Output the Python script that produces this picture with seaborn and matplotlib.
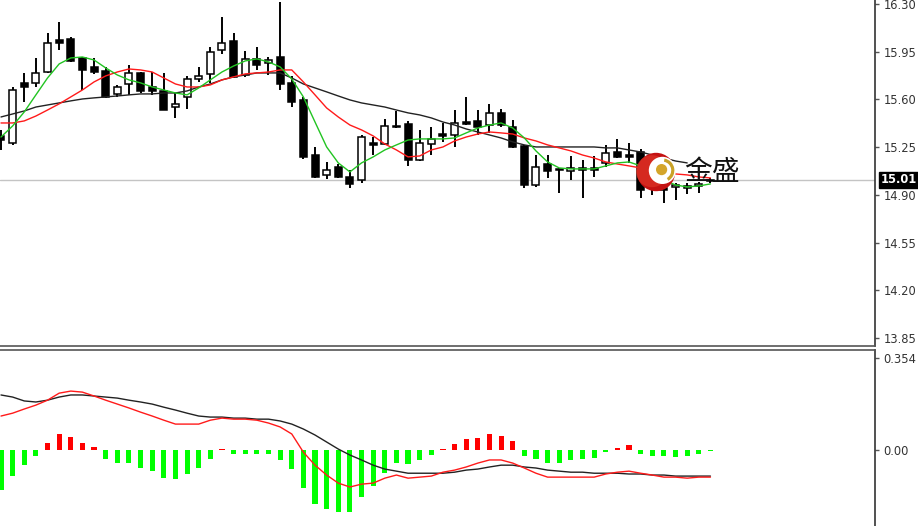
import numpy as np
import pandas as pd
import matplotlib
matplotlib.use("Agg")
import matplotlib.pyplot as plt
import seaborn as sns
from matplotlib.patches import Circle, Wedge

# ---------------- data ----------------
open_ = [15.332, 15.280, 15.721, 15.721, 15.801, 16.036, 16.043, 15.904, 15.838, 15.809,
         15.640, 15.713, 15.794, 15.691, 15.662, 15.544, 15.618, 15.750, 15.787, 15.963,
         16.029, 15.779, 15.897, 15.867, 15.911, 15.721, 15.596, 15.192, 15.046, 15.104,
         15.031, 15.009, 15.280, 15.273, 15.405, 15.420, 15.156, 15.273, 15.346, 15.339,
         15.434, 15.442, 15.412, 15.500, 15.398, 15.258, 14.972, 15.126, 15.090, 15.075,
         15.090, 15.097, 15.134, 15.214, 15.185, 15.214, 14.950, 14.950, 14.958, 14.950,
         14.965, 15.000]
high = [15.376, 15.691, 15.794, 15.904, 16.087, 16.168, 16.058, 15.911, 15.904, 15.838,
        15.706, 15.853, 15.801, 15.801, 15.794, 15.647, 15.772, 15.838, 15.985, 16.205,
        16.087, 15.955, 15.985, 15.911, 16.315, 15.772, 15.618, 15.251, 15.141, 15.126,
        15.082, 15.339, 15.324, 15.456, 15.515, 15.442, 15.376, 15.398, 15.427, 15.522,
        15.618, 15.522, 15.566, 15.530, 15.449, 15.266, 15.192, 15.192, 15.097, 15.185,
        15.156, 15.185, 15.266, 15.310, 15.280, 15.236, 15.050, 14.958, 14.987, 14.987,
        14.994, 15.020]
low = [15.229, 15.266, 15.581, 15.691, 15.794, 15.963, 15.875, 15.669, 15.787, 15.611,
       15.618, 15.633, 15.647, 15.633, 15.522, 15.464, 15.530, 15.728, 15.721, 15.933,
       15.757, 15.765, 15.816, 15.779, 15.669, 15.544, 15.163, 15.024, 15.016, 15.024,
       14.950, 14.987, 15.192, 15.266, 15.390, 15.112, 15.148, 15.192, 15.288, 15.251,
       15.412, 15.339, 15.354, 15.398, 15.244, 14.950, 14.958, 15.024, 14.914, 15.009,
       14.877, 15.031, 15.104, 15.170, 15.134, 14.877, 14.900, 14.840, 14.862, 14.906,
       14.914, 14.990]
close = [15.302, 15.669, 15.691, 15.794, 16.014, 16.014, 15.882, 15.816, 15.801, 15.618,
         15.691, 15.794, 15.662, 15.662, 15.522, 15.567, 15.750, 15.772, 15.948, 16.014,
         15.765, 15.897, 15.853, 15.889, 15.713, 15.581, 15.178, 15.031, 15.082, 15.031,
         14.980, 15.324, 15.266, 15.405, 15.394, 15.156, 15.280, 15.310, 15.332, 15.427,
         15.420, 15.398, 15.500, 15.412, 15.251, 14.972, 15.104, 15.075, 15.079, 15.097,
         15.082, 15.082, 15.207, 15.178, 15.178, 14.936, 14.990, 14.936, 14.972, 14.965,
         14.972, 15.010]

ma_fast = [15.324, 15.405, 15.508, 15.633, 15.757, 15.860, 15.904, 15.911, 15.889, 15.831,
           15.779, 15.743, 15.721, 15.691, 15.669, 15.647, 15.633, 15.684, 15.743, 15.801,
           15.845, 15.882, 15.897, 15.875, 15.838, 15.750, 15.618, 15.434, 15.251, 15.134,
           15.068, 15.134, 15.178, 15.229, 15.266, 15.302, 15.310, 15.310, 15.310, 15.317,
           15.354, 15.390, 15.412, 15.427, 15.390, 15.317, 15.222, 15.141, 15.097, 15.090,
           15.090, 15.090, 15.112, 15.134, 15.141, 15.112, 15.060, 15.009, 14.972, 14.958,
           14.965, 14.980]
ma_mid = [15.427, 15.427, 15.442, 15.478, 15.522, 15.567, 15.618, 15.669, 15.728, 15.772,
          15.801, 15.823, 15.816, 15.801, 15.757, 15.713, 15.691, 15.691, 15.706, 15.743,
          15.765, 15.787, 15.794, 15.801, 15.816, 15.816, 15.728, 15.633, 15.537, 15.471,
          15.412, 15.376, 15.332, 15.273, 15.229, 15.178, 15.185, 15.229, 15.251, 15.295,
          15.324, 15.346, 15.361, 15.354, 15.346, 15.317, 15.295, 15.266, 15.244, 15.222,
          15.192, 15.170, 15.141, 15.126, 15.112, 15.097, 15.075, 15.060, 15.053, 15.046,
          15.031, 15.024]
ma_slow = [15.471, 15.493, 15.515, 15.544, 15.559, 15.574, 15.589, 15.603, 15.611, 15.618,
           15.625, 15.633, 15.640, 15.640, 15.647, 15.647, 15.662, 15.691, 15.713, 15.743,
           15.765, 15.779, 15.794, 15.794, 15.794, 15.757, 15.713, 15.684, 15.655, 15.625,
           15.596, 15.574, 15.559, 15.544, 15.522, 15.501, 15.486, 15.464, 15.434, 15.412,
           15.383, 15.361, 15.339, 15.317, 15.288, 15.266, 15.251, 15.251, 15.251, 15.251,
           15.251, 15.251, 15.244, 15.244, 15.229, 15.214, 15.192, 15.170, 15.148, 15.134]

macd_hist = [-0.154, -0.100, -0.058, -0.023, 0.027, 0.062, 0.050, 0.027, 0.012, -0.035,
             -0.050, -0.050, -0.069, -0.081, -0.108, -0.112, -0.092, -0.069, -0.035, 0.004,
             -0.015, -0.015, -0.015, -0.015, -0.038, -0.073, -0.146, -0.208, -0.227, -0.239,
             -0.239, -0.181, -0.139, -0.089, -0.050, -0.054, -0.038, -0.019, 0.003, 0.023,
             0.042, 0.046, 0.062, 0.054, 0.035, -0.023, -0.035, -0.050, -0.050, -0.038,
             -0.035, -0.031, -0.008, 0.008, 0.019, -0.015, -0.023, -0.023, -0.027, -0.023,
             -0.015, -0.004]
macd_line = [0.131, 0.142, 0.158, 0.173, 0.192, 0.219, 0.227, 0.223, 0.208, 0.192,
             0.177, 0.162, 0.146, 0.131, 0.115, 0.100, 0.100, 0.100, 0.115, 0.123,
             0.119, 0.119, 0.115, 0.104, 0.089, 0.062, -0.008, -0.058, -0.096, -0.127,
             -0.142, -0.131, -0.127, -0.108, -0.096, -0.108, -0.104, -0.100, -0.085, -0.077,
             -0.065, -0.050, -0.038, -0.038, -0.050, -0.069, -0.089, -0.104, -0.104, -0.104,
             -0.104, -0.104, -0.092, -0.085, -0.081, -0.089, -0.096, -0.104, -0.104, -0.108,
             -0.104, -0.104]
macd_signal = [0.212, 0.204, 0.189, 0.185, 0.192, 0.204, 0.212, 0.212, 0.208, 0.204,
               0.200, 0.192, 0.185, 0.177, 0.165, 0.154, 0.142, 0.131, 0.127, 0.127,
               0.123, 0.123, 0.119, 0.119, 0.112, 0.100, 0.081, 0.058, 0.031, 0.004,
               -0.019, -0.038, -0.058, -0.073, -0.081, -0.089, -0.089, -0.089, -0.089, -0.085,
               -0.077, -0.073, -0.065, -0.058, -0.058, -0.065, -0.069, -0.077, -0.081, -0.085,
               -0.085, -0.089, -0.089, -0.089, -0.092, -0.092, -0.096, -0.096, -0.100, -0.100,
               -0.100, -0.100]

price_ticks = [16.30, 15.95, 15.60, 15.25, 14.90, 14.55, 14.20, 13.85]
macd_ticks = [0.354, 0.00]
macd_tick_labels = ["0.354", "0.00"]
last_price = 15.01
brand = "金盛"

# ---------------- figure ----------------
sns.set_style("white")
plt.rcParams['font.family'] = ['DejaVu Sans']

W, H = 918, 526
fig = plt.figure(figsize=(W / 100, H / 100), dpi=100)
fig.patch.set_facecolor("white")

ax = fig.add_axes([0, 1 - 346 / H, 875 / W, 346 / H])
ax2 = fig.add_axes([0, 0, 875 / W, (H - 350) / H])

idx = np.arange(len(close))
df = pd.DataFrame({"i": idx, "o": open_, "h": high, "l": low, "c": close})

# candles
for i, o, h, l, c in zip(df.i, df.o, df.h, df.l, df.c):
    ax.vlines(i, l, h, color="black", lw=1.4, zorder=2)
    bottom = min(o, c)
    height = max(abs(c - o), 0.012)
    bear = c < o
    ax.bar(i, height, bottom=bottom, width=0.6,
           facecolor="black" if bear else "white",
           edgecolor="black", linewidth=1.1, zorder=3)

# moving averages
sns.lineplot(x=np.arange(len(ma_slow)), y=ma_slow, ax=ax, color="#222222", lw=1.0, zorder=4)
sns.lineplot(x=np.arange(len(ma_mid)), y=ma_mid, ax=ax, color="#ff1a1a", lw=1.0, zorder=5)
sns.lineplot(x=np.arange(len(ma_fast)), y=ma_fast, ax=ax, color="#22c422", lw=1.0, zorder=6)

ax.axhline(last_price, color="#c4c4c4", lw=1.0, zorder=1)

ax.set_xlim(-0.086, 75.15)
ax.set_ylim(13.791, 16.329)
ax.set_xticks([])
ax.yaxis.tick_right()
ax.set_yticks(price_ticks)
ax.set_yticklabels([f"{t:.2f}" for t in price_ticks])

# MACD panel
colors = ["#ff0000" if v > 0 else "#00ff00" for v in macd_hist]
ax2.bar(idx, macd_hist, width=0.44, color=colors, linewidth=0, zorder=2)
sns.lineplot(x=np.arange(len(macd_signal)), y=macd_signal, ax=ax2, color="#222222", lw=1.0, zorder=3)
sns.lineplot(x=np.arange(len(macd_line)), y=macd_line, ax=ax2, color="#ff1a1a", lw=1.0, zorder=4)
ax2.set_xlim(-0.086, 75.15)
ax2.set_ylim(-0.292, 0.385)
ax2.set_xticks([])
ax2.yaxis.tick_right()
ax2.set_yticks(macd_ticks)
ax2.set_yticklabels(macd_tick_labels)

for a in (ax, ax2):
    a.set_facecolor("white")
    a.grid(False)
    a.spines["left"].set_visible(False)
    a.spines["right"].set_visible(True)
    a.spines["right"].set_color("#333333")
    a.spines["right"].set_linewidth(1.2)
    a.tick_params(axis="y", right=True, left=False, length=3, width=1,
                  color="#555555", labelsize=8.3, labelcolor="#333333", pad=3)
    a.set_xlabel("")
    a.set_ylabel("")
ax.spines["top"].set_visible(False)
ax.spines["bottom"].set_color("#555555")
ax.spines["bottom"].set_linewidth(1.2)
ax2.spines["top"].set_color("#555555")
ax2.spines["top"].set_linewidth(1.2)
ax2.spines["bottom"].set_visible(False)

# last price label
ax.annotate(f"{last_price:.2f}", xy=(1.0, last_price), xycoords=("axes fraction", "data"),
            xytext=(4, 0), textcoords="offset points", va="center", ha="left",
            color="white", fontsize=8.3, fontweight="bold",
            bbox=dict(boxstyle="square,pad=0.15", fc="black", ec="black"), zorder=10)

# logo
lax = fig.add_axes([636 / W, 1 - 192 / H, 40 / W, 40 / H])
lax.set_xlim(0, 1)
lax.set_ylim(0, 1)
lax.set_aspect("equal")
lax.axis("off")
lax.patch.set_alpha(0)
lax.add_patch(Circle((0.5, 0.5), 0.48, fc="#c41212", ec="none"))
lax.add_patch(Circle((0.40, 0.52), 0.40, fc="#e23a2a", ec="none", alpha=0.6))
lax.add_patch(Circle((0.66, 0.54), 0.34, fc="white", ec="none"))
lax.add_patch(Wedge((0.66, 0.54), 0.30, -60, 80, width=0.08, fc="#c9a227", ec="none"))
lax.add_patch(Circle((0.64, 0.56), 0.14, fc="#d4a52a", ec="none"))
fig.text(684 / W, 1 - 172 / H, brand, family=["Noto Sans CJK SC", "DejaVu Sans"],
         fontsize=20, color="#111111", va="center", ha="left")

fig.savefig("out.png", dpi=100, facecolor="white")
